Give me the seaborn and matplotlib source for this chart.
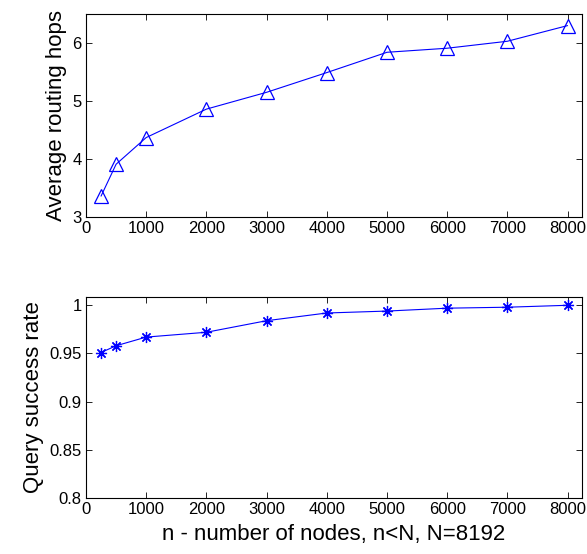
import matplotlib
matplotlib.use("Agg")
import matplotlib.pyplot as plt
import seaborn as sns
import pandas as pd

# data
nodes = [250, 500, 1000, 2000, 3000, 4000, 5000, 6000, 7000, 8000]
avg_hops = [3.36, 3.91, 4.37, 4.86, 5.15, 5.49, 5.84, 5.91, 6.03, 6.30]
success_rate = [0.951, 0.958, 0.967, 0.972, 0.984, 0.992, 0.994, 0.997, 0.998, 1.0]
x_ticks = [0, 1000, 2000, 3000, 4000, 5000, 6000, 7000, 8000]

df = pd.DataFrame({"n": nodes, "hops": avg_hops, "rate": success_rate})

sns.set_style("white", {"text.color": "black", "axes.labelcolor": "black",
                        "xtick.color": "black", "ytick.color": "black"})
plt.rcParams['font.family'] = ['Liberation Sans', 'DejaVu Sans']

fig = plt.figure(figsize=(5.87, 5.54), dpi=100)
ax1 = fig.add_axes([86 / 587, 1 - 217 / 554, 496 / 587, 203 / 554])
ax2 = fig.add_axes([86 / 587, 1 - 498 / 554, 496 / 587, 201 / 554])

blue = (0, 0, 1)

# top: average routing hops
sns.lineplot(data=df, x="n", y="hops", ax=ax1, color=blue, linewidth=0.8,
             marker="^", markersize=9.5, markerfacecolor="none",
             markeredgecolor=blue, markeredgewidth=0.9)
ax1.set_xlim(0, 8240)
ax1.set_ylim(3, 6.5)
ax1.set_yticks([3, 4, 5, 6])
ax1.set_xticks(x_ticks)
ax1.set_xlabel("")
ax1.set_ylabel("Average routing hops", fontsize=16)

# bottom: query success rate, MATLAB-like asterisk marker
sns.lineplot(data=df, x="n", y="rate", ax=ax2, color=blue, linewidth=0.8,
             marker=(8, 2, 0), markersize=8,
             markeredgecolor=blue, markeredgewidth=0.9)
ax2.set_xlim(0, 8240)
ax2.set_ylim(0.8, 1.0086)
ax2.set_yticks([0.8, 0.85, 0.9, 0.95, 1.0])
ax2.set_yticklabels(["0.8", "0.85", "0.9", "0.95", "1"])
ax2.set_xticks(x_ticks)
ax2.set_xlabel("n - number of nodes, n<N, N=8192", fontsize=16, labelpad=5)
ax2.set_ylabel("Query success rate", fontsize=16)

for ax in (ax1, ax2):
    for s in ax.spines.values():
        s.set_visible(True)
        s.set_color("black")
        s.set_linewidth(0.8)
    ax.tick_params(direction="in", length=4, width=0.6, labelsize=12,
                   colors="black", top=True, right=True, bottom=True,
                   left=True, pad=3)

fig.savefig("out.png", dpi=100)
